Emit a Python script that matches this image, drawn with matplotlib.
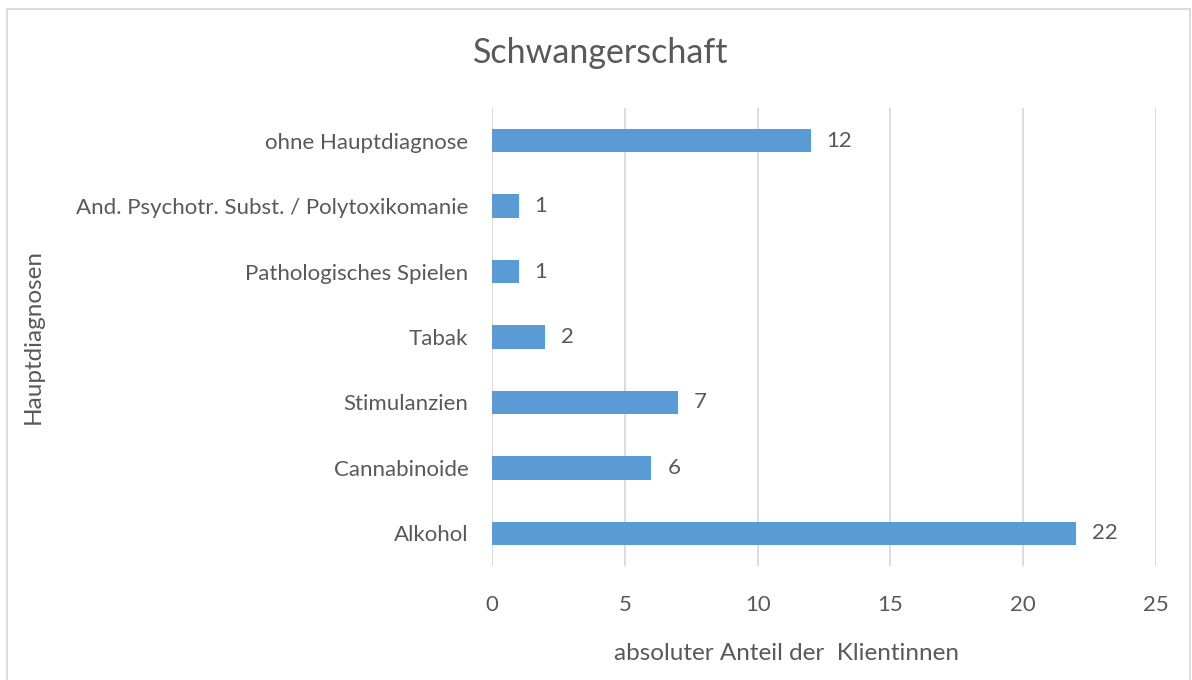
import matplotlib
matplotlib.use('Agg')
import matplotlib.pyplot as plt
from matplotlib.patches import Rectangle

categories = ['Alkohol', 'Cannabinoide', 'Stimulanzien', 'Tabak',
              'Pathologisches Spielen', 'And. Psychotr. Subst. / Polytoxikomanie',
              'ohne Hauptdiagnose']
values = [22, 6, 7, 2, 1, 1, 12]
xticks = [0, 5, 10, 15, 20, 25]

text_color = '#595959'
grid_color = '#D9D9D9'
bar_color = '#5B9BD5'

plt.rcParams['font.family'] = ['Lato', 'DejaVu Sans']


def plot_chart():
  fig = plt.figure(figsize=(11.92, 6.8), dpi=100)
  ax = fig.add_axes([492 / 1192, 1 - 566 / 680, (1156 - 492) / 1192, (566 - 108) / 680])
  pos = list(range(len(categories)))
  ax.barh(pos, values, height=0.36, color=bar_color, zorder=3)
  for p, v in zip(pos, values):
    ax.text(v + 0.6, p, str(v), va='center', ha='left', fontsize=16, color=text_color)
  ax.set_xlim(0, 25)
  ax.set_ylim(-0.5, len(categories) - 0.5)
  ax.set_xticks(xticks)
  ax.set_yticks(pos)
  ax.set_yticklabels(categories)
  ax.tick_params(axis='both', length=0, labelsize=16, labelcolor=text_color)
  ax.tick_params(axis='x', pad=21)
  ax.tick_params(axis='y', pad=17)
  ax.grid(axis='x', color=grid_color, linewidth=1.3, zorder=0)
  for s in ax.spines.values():
    s.set_visible(False)
  fig.text(786 / 1192, 1 - 653 / 680, 'absoluter Anteil der  Klientinnen', ha='center', va='center',
           fontsize=17.5, color=text_color)
  fig.text(33 / 1192, 1 - 337 / 680, 'Hauptdiagnosen', ha='center', va='center', rotation=90,
           fontsize=17.5, color=text_color)
  fig.text(601 / 1192, 1 - 53 / 680, 'Schwangerschaft', ha='center', va='center',
           fontsize=24.5, color=text_color)
  fig.patches.append(Rectangle((7.5 / 1192, -0.1), (1190 - 7.5) / 1192, 1.1 - 9 / 680,
                               transform=fig.transFigure, fill=False, edgecolor=grid_color,
                               linewidth=1.3))
  fig.savefig('out.png', dpi=100)


if __name__ == '__main__':
  plot_chart()
